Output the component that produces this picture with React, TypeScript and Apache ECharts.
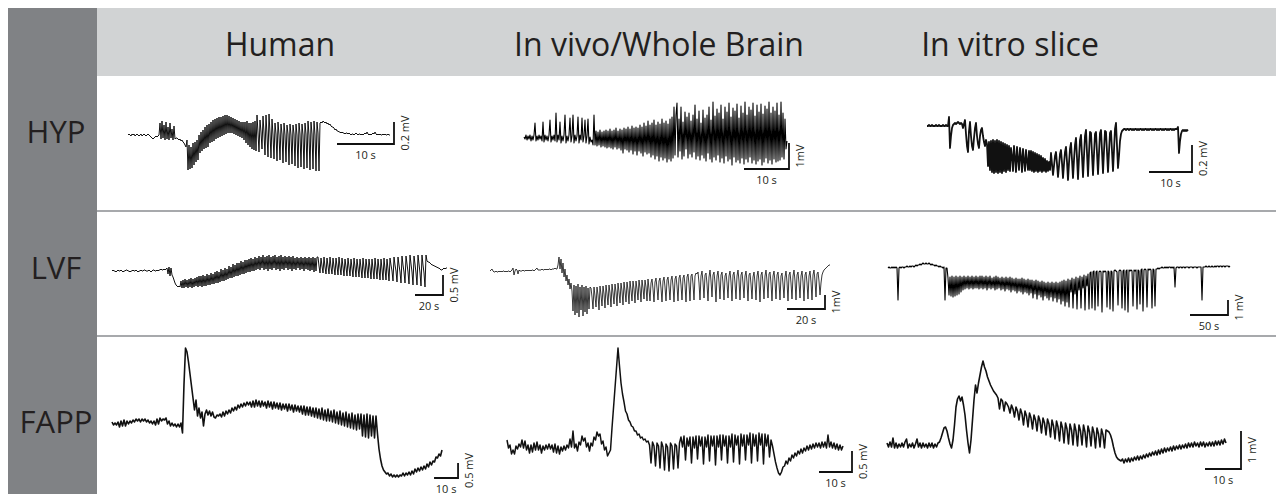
import React, { useEffect, useRef } from "react";
import * as echarts from "echarts";

// ---- Column / row texts ----
const columnTitles = ["Human", "In vivo/Whole Brain", "In vitro slice"];
const rowTitles = ["HYP", "LVF", "FAPP"];

// ---- Traces (amplitude above baseline, one value per sample) ----
const hypHuman = [
  0,1,0,-1,1,0,1,-1,0,1,0,-1,0,1,-1,0,1,0,-1,0,1,0,
  -1,-2,-3,-4,-3,-2,-1,-2,-1,0,
  12,-4,14,-3,10,-5,13,-4,8,-5,12,-3,6,-5,9,-4,-3,
  -3,-4,-5,-4,-6,-5,-7,-8,-10,-12,
  -5,-35,-10,-34,-12,-33,-8,-30,-7,-27,-5,-25,0,-18,3,-16,5,-14,8,-13,10,-12,11,-8,13,-7,15,-6,16,-4,17,-3,18,-2,18,-1,19,0,20,1,20,2,19,2,18,2,17,1,16,0,15,-1,14,-2,13,-3,13,-5,13,-8,14,-10,12,-12,12,-14,13,-15,14,-16,
  20,2,-17,15,3,-14,19,2,-20,20,0,-22,21,2,-23,16,0,-24,12,1,-26,13,0,-25,11,1,-28,12,0,-27,10,1,-30,11,0,-29,10,1,-31,11,0,-33,12,1,-32,11,0,-34,12,1,-33,14,0,-35,13,1,-34,14,0,-36,13,2,-36,12,
  13,12,14,13,12,13,11,12,10,11,9,8,8,7,5,6,4,4,3,3,2,3,2,2,1,2,2,1,2,1,0,1,1,0,1,2,1,0,1,1,0,1,0,1,2,1,3,1,0,1,0,1,2,1,3,1,0,1,0,1,0,0,1,0,1,0,0,1,0,0,
];

const hypInVivo = [
  0,-2,2,-3,1,-2,2,-4,1,-3,2,14,-4,1,-3,2,-2,1,-4,15,-5,2,-3,1,-4,2,17,-5,1,-3,2,-4,24,-5,2,-3,15,-6,1,-4,2,22,-6,1,-4,2,19,-5,1,22,-6,2,-4,1,20,-6,2,-3,19,-5,1,17,-6,1,18,-7,0,-5,-3,-8,
  22,-8,6,-9,5,-8,7,-10,5,-9,6,-10,7,-11,6,-10,8,-11,6,-12,7,-10,9,-12,6,-11,8,-13,7,-16,9,-12,8,-13,10,-15,8,-13,11,-17,9,-14,10,-18,9,-14,12,-16,10,-19,14,-15,11,-17,16,-16,12,
  -20,14,-18,17,-22,12,-19,15,-24,13,-20,18,-23,14,-21,16,-25,13,-22,18,-24,20,-21,
  30,-18,22,34,-20,18,-14,30,-22,15,-19,25,-12,20,-21,24,-17,16,-20,22,-15,32,-22,18,-19,26,-23,14,-18,27,-21,19,-24,22,-16,30,-22,17,-25,35,-20,21,-23,28,-18,24,-25,32,-21,18,-26,30,-19,25,-24,34,-22,20,-28,29,-20,26,-25,33,-23,19,-26,31,-21,24,-27,35,-22,22,-25,30,-20,27,-26,34,-23,21,-27,32,-24,25,-22,33,-28,23,-25,31,-21,28,-26,35,-23,24,-27,30,-22,26,-25,34,-24,22,-23,35,-20,24,-22,18,-12,-4,
];

const hypInVitro = [
  0,0,1,0,0,1,0,0,0,1,0,0,1,0,0,0,1,0,0,1,0,0,
  9,-22,-10,-2,1,2,3,2,3,4,3,2,3,2,
  -2,2,6,-8,-20,-26,-5,4,-10,-20,-24,-12,-2,3,-10,-18,-22,-10,-4,-2,-10,-16,-20,-14,-18,
  -40,-16,-44,-15,-46,-14,-47,-15,-46,-14,-47,-15,-46,-16,-47,-17,-45,-18,-46,-19,-44,-20,-45,
  -22,-30,-45,-20,-32,-46,-21,-33,-44,-22,-31,-46,-23,-34,-45,-24,-35,-44,-25,-44,
  -25,-45,-26,-46,-27,-45,-28,-46,-29,-45,-30,-46,-32,-45,-33,-46,-35,-45,-36,-44,
  -27,-38,-49,-40,-30, -26,-38,-51,-40,-28, -24,-37,-52,-38,-26, -21,-36,-54,-37,-23, -17,-34,-52,-34,-19,
  -12,-32,-53,-32,-14, -9,-30,-51,-30,-10, -4,-27,-50,-27,-6, -7,-28,-49,-28,-8, -6,-27,-48,-27,-7,
  -4,-25,-47,-25,-5, -6,-26,-46,-26,-7, -5,-25,-45,-24,-3, 3,-20,-42,-30,-15,
  -8,-5,-4,-3,-3,-4,-3,
  -3,-4,-3,-3,-4,-3,-4,-3,-3,-4,-3,-4,-3,-3,-4,-3,-4,-3,-3,-4,-3,-4,-3,-3,-4,-3,-4,-3,-3,-4,-3,-4,-3,-3,-4,-3,-4,-3,-3,-4,-3,-4,-3,-3,-4,-3,-4,-3,-3,
  -3,-1,-27,-15,-8,-5,-4,-5,-4,-5,-4,-5,
];

const lvfHuman = [
  0,1,0,0,-1,0,1,0,0,1,0,-1,0,0,1,1,0,0,-1,0,0,1,0,0,1,0,-1,0,0,1,0,0,1,1,0,0,0,1,0,-1,0,1,1,0,0,1,0,1,1,2,1,1,2,1,2,
  3,-3,4,-5,3,-4,
  -6,-9,-12,-14,-15,-16,-15,-16,
  -10,-17,-9,-17,-8,-16,-9,-17,-8,-16,-7,-17,-8,-16,-7,-15,-6,-16,-5,-15,
  -5,-16,-4,-15,-5,-15,-3,-14,-4,-14,-2,-13,-3,-13,-1,-12,0,-12,-1,-11,2,-10,1,-10,3,-9,2,-8,5,-7,4,-7,7,-6,6,-5,8,-5,8,-4,10,-3,9,-3,11,-2,11,-1,12,-1,13,0,12,0,14,1,13,
  2,15,1,14,3,16,1,14,2,15,0,16,2,14,1,15,3,16,1,14,2,15,0,16,2,14,1,15,3,14,1,15,2,14,0,15,2,13,1,14,3,13,1,14,2,13,0,14,2,13,1,14,0,13,1,14,-1,13,0,14,
  14,5,-2, 13,5,-2, 14,4,-3, 13,5,-3, 14,4,-3, 13,4,-4, 13,5,-4, 14,4,-4, 13,4,-5, 12,4,-5, 13,4,-5, 12,3,-6,
  13,4,-6, 12,3,-6, 12,3,-7, 13,3,-7, 12,3,-7, 12,3,-8, 12,2,-8, 13,3,-8, 12,2,-9, 12,2,-9, 13,2,-9, 12,2,-10,
  13,6,0,-10, 14,6,0,-11, 14,6,-1,-12, 15,6,-1,-12, 15,7,-1,-13, 16,7,-1,-14, 15,7,-2,-14, 16,7,-2,-15, 16,6,-2,-16,
  16,10,9,9,8,7,6,6,5,5,4,4,3,3,2,1,1,2,3,2,3,3,
];

const lvfInVivo = [
  0,1,2,0,-1,-1,0,-1,-1,0,-1,0,-1,0,0,-1,0,-1,0,0,-1,0,1,3,-4,0,2,1,-3,1,0,0,0,1,0,0,1,0,1,0,1,0,1,1,0,1,2,3,1,1,1,1,2,1,1,2,1,2,1,2,2,1,2,2,2,3,2,2,
  6,14,2,12,-2,8,-6,2,-10,-4,-14,-8,-18,-12,-20,
  -40,-14,-44,-15,-42,-13,-46,-16,-39,-14,-45,-16,-41,-15,-43,-17,-38,-16,
  -17,-26,-38,-16,-25,-36,-16,-24,-39,-15,-24,-35,-15,-23,-37,-14,-23,-34,-14,-22,-36,-13,-22,-33,-13,-21,-35,-12,-21,-32,-12,-20,-34,-11,-20,-31,-11,-19,-33,-10,-19,-30,-10,-18,-32,-10,-18,-29,-9,-17,-31,-9,-17,-28,-9,-16,-30,
  -8,-18,-30,-12, -8,-18,-31,-11, -7,-17,-29,-10, -7,-17,-31,-10, -6,-16,-30,-9, -6,-16,-29,-9, -5,-15,-31,-8, -5,-15,-30,-7, -4,-14,-29,-7, -4,-14,-31,-6, -3,-13,-30,-5, -3,-13,-29,-5, -2,-3,
  -1,-12,-29,-5, 0,-11,-27,-4, -2,-13,-30,-6, 1,-10,-26,-4, -1,-12,-31,-5, 0,-11,-28,-4, -1,-12,-29,-5, -2,-12,-27,-5, 0,-11,-30,-4, -1,-12,-28,-5,
  1,-10,-29,-4, -1,-12,-27,-5, 0,-11,-30,-4, -2,-13,-28,-6, -1,-12,-29,-5, 0,-11,-31,-4, -1,-12,-28,-5, 1,-10,-27,-3, -1,-12,-30,-5, 0,-11,-28,-4,
  -1,-12,-29,-5, -2,-13,-27,-6, 0,-11,-30,-4, -1,-12,-28,-5, 1,-10,-29,-4, -1,-12,-27,-5, 0,-11,-30,-4, -1,-12,-28,-5, 0,-11,-29,-4, 1,-10,-26,-3,
  -1,-10,-24,
  -12,-4,-1,1,2,3,4,5,6,6,
];

const lvfInVitro = [
  0,1,0,0,1,0,1,0,1,0,-32,0,1,0,1,1,0,1,1,2,1,1,2,1,2,2,1,2,3,2,3,3,4,3,4,5,4,4,5,4,4,5,4,3,4,3,3,2,3,2,2,1,2,1,1,0,1,-32,0,0,
  -10,-27,-9,-28,-8,-29,-9,-28,-8,-27,-9,-26,-8,-24,-9,-22,-8,-21,-9,-20,-8,-21,-9,-20,-8,-21,-9,-20,-8,-20,-9,-21,-8,
  -20,-8,-21,-9,-20,-8,-22,-9,-20,-8,-21,-10,-20,-9,-22,-8,-21,-9,-20,-10,-22,-9,-21,-10,-23,-9,-21,-10,-22,-9,-24,-10,-22,-11,-23,-10,-25,-11,-23,-11,-24,-10,-26,-11,-24,-12,-25,-11,-27,-12,
  -25,-12,-30,-13,-26,-12,-31,-13,-27,-14,-29,-13,-32,-14,-28,-15,-30,-14,-32,-15,-29,-14,-33,-15,-30,-14,-34,-15,-31,-14,
  -36,-13,-33,-12,-38,-13,-34,-11,-39,-12,-24,-10,-40,-11,-26,-9,-41,-10,-22,-8,-40,-9,-20,-7,-42,-8,-18,-6,-41,-5,
  -4,-40,-4,-3,-42,-4,-3,-38,-4,-3,-4,-44,-3,-4,-3,-4,-39,-3,-4,-41,-3,-4,-43,-3,-2,-3,-4,-37,-3,-2,-3,-40,-3,-2,-42,-3,-2,-44,-2,-3,-2,-3,-38,-2,-3,-2,-41,-2,-3,-36,-2,-1,-43,-2,-1,-2,-39,-1,-2,-1,-2,-40,-1,-2,-38,-1,-1,
  0,-1,0,0,1,0,0,1,0,1,0,1,1,0,1,0,1,-19,0,1,1,0,1,1,0,1,1,0,1,1,1,0,1,1,1,0,1,1,1,0,1,1,1,1,-32,1,1,1,2,1,1,2,1,1,2,1,1,2,1,2,2,1,2,2,1,2,2,1,2,2,2,1,2,
];

const fappHuman = [
  2,-1,1,-1,2,-3,3,-2,4,-2,3,0,3,1,4,2,5,3,5,2,5,3,5,2,4,1,3,0,3,-1,5,0,6,3,5,4,6,0,3,-2,1,-2,0,-3,0,-3,1,
  -9,
  40,76,72,62,50,38,26,14,24,8,16,6,12,-2,10,14,9,13,8,12,7,6,9,8,10,
  7,12,8,13,10,14,11,16,13,17,14,19,16,20,17,21,18,22,19,22,
  17,23,17,24,18,23,17,23,18,22,16,23,17,22,15,22,16,21,15,21,14,20,15,20,13,20,14,19,12,19,13,18,12,
  18,10,18,9,17,9,17,8,16,7,16,6,15,5,16,4,14,3,15,3,13,2,14,1,12,0,13,-1,11,-2,12,-3,10,-4,11,-5,9,-6,10,-5,
  10,-12,9,-13,10,-14,9,-12,8,-14,
  8,-10,-25,-35,-42,-46,
  -48,-50,-49,-52,-50,-53,-51,-53,-51,-53,-51,-52,
  -49,-52,-49,-51,-48,-51,-47,-50,-45,-48,-44,-47,-43,-46,-42,-45,-40,-43,-38,-41,-37,-38,-33,-34,-30,-32,-26,
];

const fappInVivo = [
  8,0,3,-6,-2,-6,2,-1,4,1,8,0,7,-2,3,-5,3,-4,5,-2,6,-2,3,-5,2,-2,3,-1,4,-1,3,-4,4,-5,2,-6,1,-3,2,-2,3,0,9,1,17,0,4,-3,6,3,12,7,10,1,5,-3,5,2,11,8,16,12,14,4,7,-2,1,-8,-5,
  -2,20,40,60,80,100,82,
  65,54,46,37,34,28,26,22,21,17,17,13,14,10,11,8,9,6,
  7,3,-15, 6,2,-18, 5,2,-20, 6,1,-22, 4,1,-23, 5,2,-21, 4,2,-20, 5,
  11,1,12,-12, 10,2,11,-15, 11,0,12,-11, 12,2,11,-16, 11,1,13,-13, 12,2,12,-17, 12,1,13,-12, 13,2,12,-15,
  12,1,14,-14, 13,3,12,-16, 14,2,13,-12, 13,3,15,-15, 14,2,13,-13, 15,3,14,-16, 14,2,13,-9,
  8,2,-6,-14,-20,-25,-27,-24,-19,
  -18,-13,-16,-10,-13,-7,-10,-5,-8,-3,-6,-1,-5,0,-3,2,-2,3,-1,4,0,5,1,5,0,6,1,6,0,13,1,6,0,5,-1,4,-2,3,-2,2,
];

const fappInVitro = [
  2,-2,3,-2,7,-3,2,-3,1,-2,2,-2,3,6,-3,1,-2,2,-3,1,6,-2,2,-3,2,-2,1,-3,2,-2,2,-3,1,-2,2,
  3,7,12,17,18,14,7,1,-3,
  5,20,38,46,49,44,48,40,30,15,2,-8,
  5,25,45,60,52,62,70,78,84,
  78,74,68,64,60,57,54,52,50,47,36,46,44,34,43,
  41,38,32, 40,36,28, 38,34,25, 36,31,20, 34,29,18, 32,27,16, 30,25,14, 29,24,12, 27,22,10, 26,21,8, 25,19,6,
  24,18,4, 23,17,2, 22,16,1, 21,15,0, 21,14,-1, 20,14,0, 20,13,-2, 19,13,-1, 18,12,-3, 17,11,-2, 16,10,-3,
  15,
  14,13,10,5,-2,-8,-12,-14,-15,-16,
  -14,-18,-14,-17,-13,-17,-13,-16,-12,-15,-11,-15,-11,-14,-10,-13,-9,-12,-8,-11,-7,-10,-6,-10,-5,-9,-4,-8,-3,-7,-3,-6,-2,-6,-1,-5,-1,-4,0,-4,0,-3,1,-3,2,-2,2,-2,3,-1,2,-2,3,-1,3,-2,2,-1,3,-1,3,-1,4,0,4,0,5,1,6,2,
];

// ---- Scale bars: [start of horizontal, corner, top of vertical] in sample / amplitude units ----
const hypHumanBar = [[209, -9], [266, -9], [266, 13]];
const hypInVivoBar = [[220, -32], [265, -32], [265, -6]];
const hypInVitroBar = [[222, -46], [265, -46], [265, -19]];
const lvfHumanBar = [[303, -24], [331, -24], [331, -4]];
const lvfInVivoBar = [[297, -38], [335, -38], [335, -24]];
const lvfInVitroBar = [[302, -47], [340, -47], [340, -32]];
const fappHumanBar = [[214.7, -54], [230.7, -54], [230.7, -39]];
const fappInVivoBar = [[208, -24], [230, -24], [230, -3]];
const fappInVitroBar = [[212, -24], [236, -24], [236, 14]];

const timeLabels = ["10 s", "10 s", "10 s", "20 s", "20 s", "50 s", "10 s", "10 s", "10 s"];
const voltLabels = ["0.2 mV", "1mV", "0.2 mV", "0.5 mV", "1mV", "1 mV", "0.5 mV", "0.5 mV", "1 mV"];

// ---- Layout of each panel (pixels) ----
const panels = [
  { data: hypHuman, bar: hypHumanBar, left: 128, step: 1, base: 135, vMin: -40, vMax: 25, xMax: 270, color: "#111", width: 1.0 },
  { data: hypInVivo, bar: hypInVivoBar, left: 524, step: 1, base: 137, vMin: -34, vMax: 36, xMax: 268, color: "#000", width: 1.1 },
  { data: hypInVitro, bar: hypInVitroBar, left: 927, step: 1, base: 126, vMin: -56, vMax: 10, xMax: 268, color: "#111", width: 1.8 },
  { data: lvfHuman, bar: lvfHumanBar, left: 112, step: 1, base: 271, vMin: -26, vMax: 18, xMax: 338, color: "#111", width: 1.0 },
  { data: lvfInVivo, bar: lvfInVivoBar, left: 490, step: 1, base: 271, vMin: -48, vMax: 16, xMax: 342, color: "#222", width: 0.9 },
  { data: lvfInVitro, bar: lvfInVitroBar, left: 888, step: 1, base: 268, vMin: -48, vMax: 8, xMax: 345, color: "#000", width: 1.1 },
  { data: fappHuman, bar: fappHumanBar, left: 112, step: 1.5, base: 424, vMin: -56, vMax: 78, xMax: 235, color: "#111", width: 1.6 },
  { data: fappInVivo, bar: fappInVivoBar, left: 507, step: 1.5, base: 448, vMin: -30, vMax: 102, xMax: 235, color: "#111", width: 1.5 },
  { data: fappInVitro, bar: fappInVitroBar, left: 887, step: 1.5, base: 445, vMin: -26, vMax: 88, xMax: 240, color: "#111", width: 1.6 },
];

const titlePos = [[280, 43], [659, 43], [1010, 43]];
const rowPos = [[56, 131], [56, 267], [56, 421]];

export default function App() {
  const ref = useRef<HTMLDivElement>(null);
  useEffect(() => {
    if (!ref.current) return;
    const chart = echarts.init(ref.current, null, { renderer: "svg" });
    const grid: any[] = [];
    const xAxis: any[] = [];
    const yAxis: any[] = [];
    const series: any[] = [];
    const graphic: any[] = [
      { type: "rect", shape: { x: 97, y: 8, width: 1179, height: 68 }, style: { fill: "#d1d3d4" }, silent: true },
      { type: "rect", shape: { x: 8, y: 8, width: 89, height: 486 }, style: { fill: "#808285" }, silent: true },
      { type: "line", shape: { x1: 97, y1: 211, x2: 1276, y2: 211 }, style: { stroke: "#a7a9ac", lineWidth: 2 }, silent: true },
      { type: "line", shape: { x1: 97, y1: 336, x2: 1276, y2: 336 }, style: { stroke: "#a7a9ac", lineWidth: 2 }, silent: true },
    ];
    columnTitles.forEach((t, i) => {
      graphic.push({
        type: "text", x: titlePos[i][0], y: titlePos[i][1], silent: true,
        style: { text: t, fill: "#231f20", fontSize: 32, fontFamily: "Open Sans", align: "center", verticalAlign: "middle" },
      });
    });
    rowTitles.forEach((t, i) => {
      graphic.push({
        type: "text", x: rowPos[i][0], y: rowPos[i][1], silent: true,
        style: { text: t, fill: "#231f20", fontSize: 31, fontFamily: "Open Sans", align: "center", verticalAlign: "middle" },
      });
    });
    panels.forEach((p, i) => {
      grid.push({ left: p.left, top: p.base - p.vMax, width: p.xMax * p.step, height: p.vMax - p.vMin });
      xAxis.push({ type: "value", gridIndex: i, min: 0, max: p.xMax, show: false });
      yAxis.push({ type: "value", gridIndex: i, min: p.vMin, max: p.vMax, show: false });
      series.push({
        type: "line", xAxisIndex: i, yAxisIndex: i, silent: true, symbol: "none", showSymbol: false,
        data: p.data.map((v, k) => [k, v]),
        lineStyle: { color: p.color, width: p.width, join: "round" },
        emphasis: { disabled: true }, clip: false,
      });
      series.push({
        type: "line", xAxisIndex: i, yAxisIndex: i, silent: true, symbol: "none", showSymbol: false,
        data: p.bar,
        lineStyle: { color: "#111", width: 1.8, join: "miter", cap: "butt" },
        emphasis: { disabled: true }, clip: false,
      });
      const [h0, corner, v1] = p.bar;
      const tx = p.left + ((h0[0] + corner[0]) / 2) * p.step;
      const ty = p.base - corner[1] + 10;
      const vx = p.left + corner[0] * p.step + 10;
      const vy = p.base - (corner[1] + v1[1]) / 2;
      graphic.push({
        type: "text", x: tx, y: ty, silent: true,
        style: { text: timeLabels[i], fill: "#231f20", fontSize: 11, fontFamily: "Open Sans", align: "center", verticalAlign: "middle" },
      });
      graphic.push({
        type: "text", x: vx, y: vy, rotation: Math.PI / 2, silent: true,
        style: { text: voltLabels[i], fill: "#231f20", fontSize: 11, fontFamily: "Open Sans", align: "center", verticalAlign: "middle" },
      });
    });
    chart.setOption({ animation: false, backgroundColor: "#ffffff", grid, xAxis, yAxis, series, graphic });
    return () => chart.dispose();
  }, []);
  return <div ref={ref} style={{ position: "absolute", left: 0, top: 0, width: 1276, height: 494 }} />;
}
